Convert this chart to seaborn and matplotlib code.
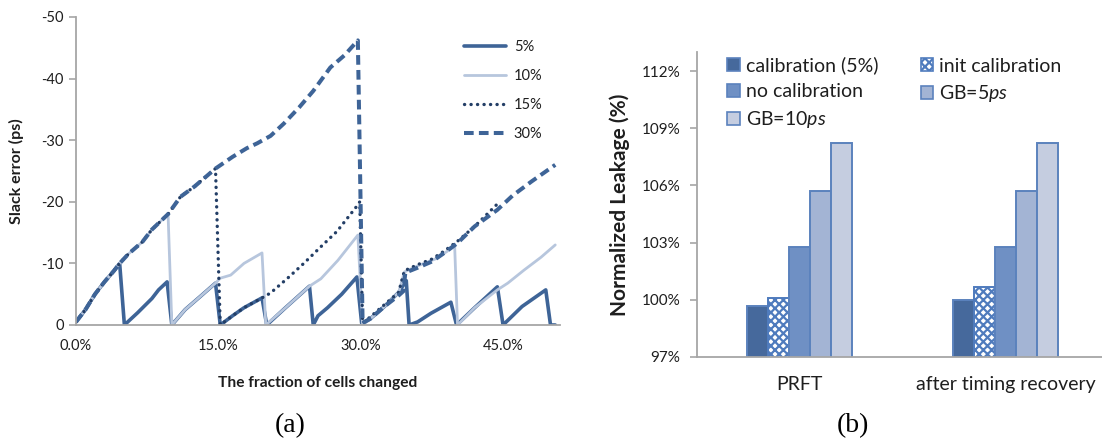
import matplotlib
matplotlib.use("Agg")
import matplotlib.pyplot as plt
from matplotlib.patches import Patch
import seaborn as sns
import pandas as pd

# ---------------- (a) slack error vs fraction of cells changed ----------------
x_5 = [0, 1, 2, 3, 4, 4.6, 5.1, 6.5, 8, 8.7, 9.6, 10.1, 11.5, 13, 14.7, 15.2, 16.5, 17.7,
       19.6, 20.1, 22, 24.6, 25.0, 25.5, 26.5, 28, 29.6, 30.1, 31, 32.5, 34, 34.8, 35.1,
       36, 37.4, 39.5, 40.1, 42, 44.4, 45.0, 47, 49.5, 50.0, 50.5]
y_5 = [-0.5, -2.5, -5, -7, -8.8, -10, 0, -2, -4.3, -5.7, -7, 0, -2.5, -4.5, -6.8, 0, -1.5, -2.8,
       -4.4, 0, -2.7, -6.3, 0, -1.5, -2.8, -5, -7.8, -0.3, -1, -3, -5.3, -7.2, 0,
       -0.5, -1.9, -3.7, 0, -2.8, -6.2, 0, -3, -5.7, 0, 0]

x_10 = [0, 1, 2, 3, 4, 4.6, 5.5, 7, 8, 9.7, 10.1, 11.5, 13, 14.7, 15.2, 16.3, 17.7, 19.6,
        20.0, 22, 24.6, 25.8, 27.6, 29.7, 30.2, 31, 32.5, 34, 34.6, 36, 38, 39.9, 40.2,
        42, 44.4, 45.5, 47.2, 49, 50.5]
y_10 = [-0.5, -2.5, -5, -7, -8.8, -10, -11.5, -13.5, -15.5, -18, 0, -2.5, -4.5, -6.8, -7.6,
        -8.1, -10, -11.7, 0, -2.7, -6.3, -7.5, -10.5, -14.6, 0, -1, -3, -5.3, -8.6, -9.6,
        -10.8, -12.8, 0, -2.8, -5.7, -6.8, -8.9, -11, -13]

x_15 = [0, 1, 2, 3, 4, 4.6, 5.5, 7, 8, 9.7, 11, 12.5, 14.7, 15.2, 16.5, 17.7, 19.6, 20.5,
        22.3, 24, 25.8, 27.5, 29.7, 29.9, 30.2, 31, 32.5, 34, 34.6, 36, 37.5, 38.8, 40.2,
        42, 44.5]
y_15 = [-0.5, -2.5, -5, -7, -8.8, -10, -11.5, -13.5, -15.5, -18, -20.8, -22.5, -25.4, 0,
        -1.5, -2.8, -4.4, -5.2, -7.6, -10, -12.7, -15.2, -19.5, -20, -0.3, -1.3, -3.3, -5.3,
        -8.8, -9.8, -10.7, -12, -13.6, -16, -19.8]

x_30 = [0, 1, 2, 3, 4, 4.6, 5.5, 7, 8, 9.7, 11, 12.5, 14.7, 16.5, 18, 19.1, 20.5, 21.9,
        23.5, 25, 26.8, 28.3, 29.7, 30.2, 31, 32.5, 34, 34.5, 34.7, 36, 37.5, 38.8, 40.2,
        42, 44.4, 46, 48, 50.5]
y_30 = [-0.5, -2.5, -5, -7, -8.8, -10, -11.5, -13.5, -15.5, -18, -20.8, -22.5, -25.4, -27.3,
        -28.7, -29.5, -30.7, -32.7, -35.3, -38, -41.8, -43.8, -46.2, -0.3, -1, -3, -4.8,
        -5.5, -8.5, -9.3, -10.3, -11.7, -13.3, -16, -18.7, -21, -23.3, -26]

series_labels = ["5%", "10%", "15%", "30%"]
x_ticks_a = [0, 15, 30, 45]
x_ticklabels_a = ["0.0%", "15.0%", "30.0%", "45.0%"]
y_ticks_a = [0, -10, -20, -30, -40, -50]

# ---------------- (b) normalized leakage ----------------
stages = ["PRFT", "after timing recovery"]
methods = ["calibration (5%)", "init calibration", "no calibration",
           r"GB=5$\mathit{ps}$", r"GB=10$\mathit{ps}$"]
leak_prft = [99.7, 100.1, 102.75, 105.7, 108.25]
leak_recovery = [100.0, 100.65, 102.75, 105.7, 108.25]
y_ticks_b = [97, 100, 103, 106, 109, 112]

sns.set_theme(style="white")
plt.rcParams["font.family"] = ["Lato", "DejaVu Sans"]
plt.rcParams["mathtext.fontset"] = "custom"
plt.rcParams["mathtext.it"] = "Lato:italic"
plt.rcParams["mathtext.rm"] = "Lato"
plt.rcParams["hatch.linewidth"] = 1.6

W, H = 1102, 441
fig = plt.figure(figsize=(W / 100, H / 100), dpi=100)
fig.patch.set_facecolor("white")

grey = "#a6a6a6"
text_c = "#1e1e1e"

def px_axes(l, t, r, b):
    return fig.add_axes([l / W, 1 - b / H, (r - l) / W, (b - t) / H])

# ---- panel (a)
ax1 = px_axes(76, 17, 560, 325)
dark = "#3e6497"
light = "#b7c6dd"
navy = "#233e66"
sns.lineplot(x=x_5, y=y_5, ax=ax1, sort=False, estimator=None, color=dark, lw=2.6,
             label=series_labels[0])
sns.lineplot(x=x_10, y=y_10, ax=ax1, sort=False, estimator=None, color=light, lw=2.0,
             label=series_labels[1])
l15 = sns.lineplot(x=x_15, y=y_15, ax=ax1, sort=False, estimator=None, color=navy, lw=2.4,
                   label=series_labels[2]).lines[-1]
l15.set_linestyle((0, (0.05, 1.9)))
l15.set_dash_capstyle("round")
l30 = sns.lineplot(x=x_30, y=y_30, ax=ax1, sort=False, estimator=None, color=dark, lw=2.9,
                   label=series_labels[3]).lines[-1]
l30.set_linestyle((0, (2.4, 1.3)))

ax1.set_xlim(0, 51)
ax1.set_ylim(0, -50)
ax1.set_xticks(x_ticks_a)
ax1.set_xticklabels(x_ticklabels_a)
ax1.set_yticks(y_ticks_a)
ax1.set_yticklabels([str(v) for v in y_ticks_a])
for s in ["top", "right"]:
    ax1.spines[s].set_visible(False)
for s in ["left", "bottom"]:
    ax1.spines[s].set_color(grey)
    ax1.spines[s].set_linewidth(1.3)
ax1.tick_params(axis="y", direction="out", length=5, width=1.2, color=grey,
                labelsize=10.5, labelcolor=text_c, pad=4, left=True)
ax1.tick_params(axis="x", length=0, labelsize=10.5, labelcolor=text_c, pad=10)
ax1.set_xlabel("The fraction of cells changed", fontsize=11.2, fontweight="bold",
               color=text_c, labelpad=17)
ax1.set_ylabel("Slack error (ps)", fontsize=11.5, fontweight="bold", color=text_c, labelpad=12)
leg1 = ax1.legend(loc="upper left", bbox_to_anchor=(0.79, 0.945), frameon=False,
                  fontsize=10.5, handlelength=2.9, labelspacing=1.03, handletextpad=0.5,
                  borderaxespad=0)
for t in leg1.get_texts():
    t.set_color(text_c)
ax1.grid(False)

# ---- panel (b)
ax2 = px_axes(697, 52, 1102, 357)
df = pd.DataFrame({
    "stage": [stages[0]] * len(methods) + [stages[1]] * len(methods),
    "method": methods * 2,
    "leak": leak_prft + leak_recovery,
})
bar_colors = ["#46699c", "#ffffff", "#6f90c4", "#a3b4d4", "#c5cde0"]
edge = "#5b82bd"
sns.barplot(data=df, x="stage", y="leak", hue="method", hue_order=methods,
            palette=bar_colors, ax=ax2, width=0.51, gap=0, legend=False,
            edgecolor=edge, linewidth=1.4, saturation=1)
for i, cont in enumerate(ax2.containers):
    for p in cont:
        p.set_edgecolor(edge)
        if i == 1:
            p.set_facecolor("white")
            p.set_hatch("xxxx")
            p.set_edgecolor("#4f7bbd")

ax2.set_ylim(97, 113)
ax2.set_xlim(-0.5, 1.47)
ax2.set_yticks(y_ticks_b)
ax2.set_yticklabels([f"{v}%" for v in y_ticks_b])
for s in ["top", "right"]:
    ax2.spines[s].set_visible(False)
for s in ["left", "bottom"]:
    ax2.spines[s].set_color(grey)
    ax2.spines[s].set_linewidth(1.3)
ax2.tick_params(axis="y", direction="out", length=5, width=1.2, color=grey,
                labelsize=11, labelcolor=text_c, pad=7, left=True)
ax2.tick_params(axis="x", length=0, labelsize=14, labelcolor=text_c, pad=14)
ax2.set_xlabel("")
ax2.set_ylabel("Normalized Leakage (%)", fontsize=15, fontweight="bold", color=text_c,
               labelpad=8)
ax2.grid(False)

handles = []
for i, (m, c) in enumerate(zip(methods, bar_colors)):
    if i == 1:
        handles.append(Patch(facecolor="white", edgecolor="#4f7bbd", hatch="xxxx",
                             linewidth=1.2, label=m))
    else:
        handles.append(Patch(facecolor=c, edgecolor=edge, linewidth=1.2, label=m))
order = [0, 2, 4, 1, 3]
leg2 = ax2.legend([handles[k] for k in order], [methods[k] for k in order],
                  loc="upper left", bbox_to_anchor=(0.055, 1.01), ncol=2, frameon=False,
                  fontsize=14, handlelength=0.65, handleheight=0.65, handletextpad=0.3,
                  labelspacing=0.45, columnspacing=2.2, borderaxespad=0)
for t in leg2.get_texts():
    t.set_color(text_c)

# panel captions
fig.text(290 / W, 1 - 426 / H, "(a)", ha="center", va="center", fontsize=20,
         family="Liberation Serif", color="black")
fig.text(853 / W, 1 - 426 / H, "(b)", ha="center", va="center", fontsize=20,
         family="Liberation Serif", color="black")

fig.savefig("out.png", dpi=100, facecolor="white")
